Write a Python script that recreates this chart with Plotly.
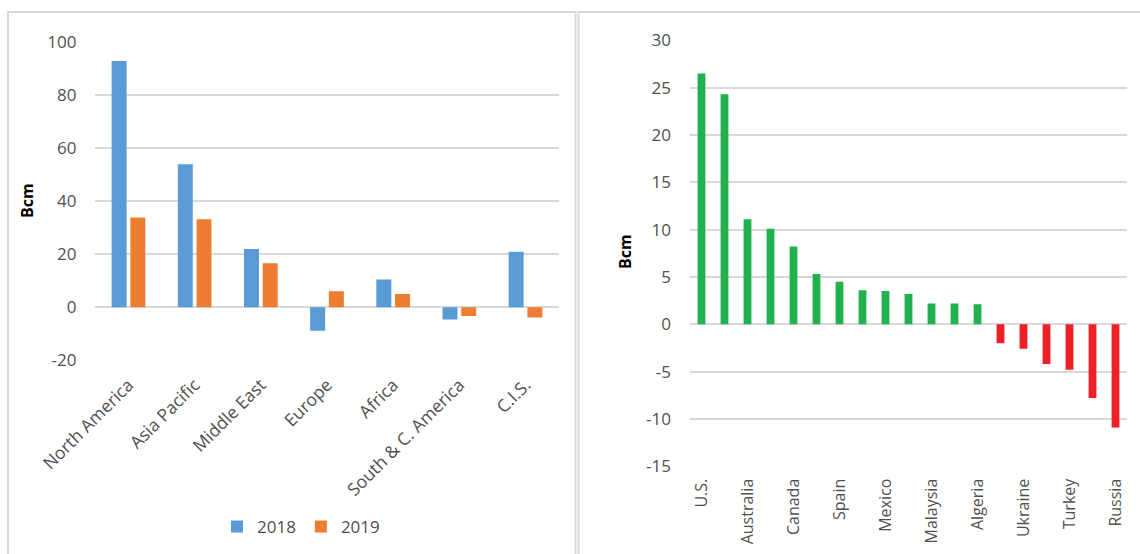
import plotly.graph_objects as go

# ---- Data: left panel (regions, two years) ----
regions = ["North America", "Asia Pacific", "Middle East", "Europe", "Africa",
           "South & C. America", "C.I.S."]
values_2018 = [92.8, 53.9, 21.9, -8.9, 10.4, -4.6, 20.9]
values_2019 = [33.8, 33.1, 16.6, 6.0, 5.0, -3.3, -3.9]

# ---- Data: right panel (countries) ----
countries = ["U.S.", "China", "Australia", "Iran", "Canada", "Argentina", "Spain",
             "Egypt", "Mexico", "Saudi Arabia", "Malaysia", "Italy", "Algeria",
             "Korea", "Ukraine", "Uzbekistan", "Turkey", "Japan", "Russia"]
country_changes = [26.5, 24.3, 11.1, 10.1, 8.2, 5.3, 4.5, 3.6, 3.5, 3.2, 2.2, 2.2,
                   2.1, -2.0, -2.6, -4.2, -4.8, -7.8, -10.9]
shown_country_labels = ["U.S.", "Australia", "Canada", "Spain", "Mexico",
                        "Malaysia", "Algeria", "Ukraine", "Turkey", "Russia"]

left_ticks = [-20, 0, 20, 40, 60, 80, 100]
left_tick_text = ["-20", "0", "20", "40", "60", "80", "100"]
right_ticks = [-15, -10, -5, 0, 5, 10, 15, 20, 25, 30]
right_tick_text = ["-15", "-10", "-5", "0", "5", "10", "15", "20", "25", "30"]

W, H = 1140, 554
BLUE, ORANGE = "#5b9bd5", "#ed7d31"
GREEN, RED = "#21b14f", "#ee2026"
GRID = "#d9d9d9"
TXT = "#505050"
FONT = "Open Sans"

def px_x(v):
    return v / W

def px_y(v):
    return 1 - v / H

country_colors = [GREEN if v >= 0 else RED for v in country_changes]

fig = go.Figure()
fig.add_trace(go.Bar(x=regions, y=values_2018, name="2018", marker_color=BLUE,
                     marker_line_width=0, xaxis="x", yaxis="y"))
fig.add_trace(go.Bar(x=regions, y=values_2019, name="2019", marker_color=ORANGE,
                     marker_line_width=0, xaxis="x", yaxis="y"))
fig.add_trace(go.Bar(x=countries, y=country_changes, marker_color=country_colors,
                     marker_line_width=0, width=0.34, showlegend=False,
                     xaxis="x2", yaxis="y2"))

common_y = dict(showgrid=True, gridcolor=GRID, gridwidth=1.6, zeroline=True,
                zerolinecolor=GRID, zerolinewidth=2, showline=False, ticks="",
                tickfont=dict(family=FONT, size=17, color=TXT),
                ticklabelstandoff=18, fixedrange=True, automargin=False,
                tickmode="array")

fig.update_layout(
    template="none",
    width=W, height=H,
    margin=dict(l=0, r=0, t=0, b=0, pad=0),
    paper_bgcolor="white", plot_bgcolor="white",
    font=dict(family=FONT, color=TXT),
    barmode="group", bargap=0.434, bargroupgap=0.2,
    showlegend=True,
    legend=dict(orientation="h", x=px_x(301), xanchor="center",
                y=px_y(527), yanchor="middle",
                font=dict(family=FONT, size=17, color=TXT),
                itemwidth=30, bgcolor="rgba(0,0,0,0)"),
    xaxis=dict(domain=[px_x(95.4), px_x(558.6)], anchor="y", showgrid=False,
               showline=False, zeroline=False, ticks="", tickangle=-45,
               tickfont=dict(family=FONT, size=17.5, color=TXT),
               ticklabelstandoff=10, fixedrange=True, automargin=False),
    yaxis=dict(domain=[px_y(360.4), px_y(41.7)], anchor="x",
               range=[-20.05, 100.05], tickvals=left_ticks,
               ticktext=left_tick_text, **common_y),
    xaxis2=dict(domain=[px_x(690), px_x(1127)], anchor="y2", showgrid=False,
                showline=False, zeroline=False, ticks="", tickangle=-90,
                tickmode="array", tickvals=shown_country_labels,
                ticktext=shown_country_labels,
                tickfont=dict(family=FONT, size=16, color=TXT),
                ticklabelstandoff=8, fixedrange=True, automargin=False),
    yaxis2=dict(domain=[px_y(466.5), px_y(40)], anchor="x2",
                range=[-15.03, 30.03], tickvals=right_ticks,
                ticktext=right_tick_text, **common_y),
)

# Panel borders
fig.add_shape(type="rect", xref="paper", yref="paper",
              x0=px_x(8), x1=px_x(575.5), y0=-0.02, y1=px_y(12),
              line=dict(color=GRID, width=2), layer="below")
fig.add_shape(type="rect", xref="paper", yref="paper",
              x0=px_x(578.5), x1=1.02, y0=-0.02, y1=px_y(12),
              line=dict(color=GRID, width=2), layer="below")

# Axis titles
fig.add_annotation(text="<b>Bcm</b>", xref="paper", yref="paper",
                   x=px_x(27), y=px_y(201), textangle=-90, showarrow=False,
                   font=dict(family=FONT, size=16, color="black"),
                   xanchor="center", yanchor="middle")
fig.add_annotation(text="<b>Bcm</b>", xref="paper", yref="paper",
                   x=px_x(625), y=px_y(252), textangle=-90, showarrow=False,
                   font=dict(family=FONT, size=16, color="black"),
                   xanchor="center", yanchor="middle")

fig.write_html(
    "out.html",
    config={"displayModeBar": False},
    post_script="document.body.style.margin='0';document.body.style.overflow='hidden';",
)
